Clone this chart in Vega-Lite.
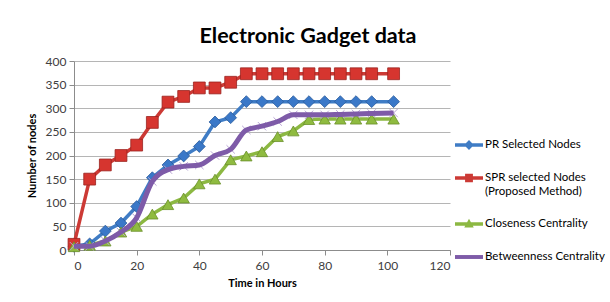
{
  "$schema": "https://vega.github.io/schema/vega-lite/v6.json",
  "width": 376,
  "height": 189,
  "autosize": {"type": "none"},
  "padding": {"left": 74, "top": 61, "right": 160, "bottom": 52},
  "background": "white",
  "config": {
    "font": "Lato",
    "view": {"stroke": null},
    "axis": {"labelFont": "Lato", "titleFont": "Lato"}
  },
  "title": {
    "text": "Electronic Gadget data",
    "fontSize": 21.5,
    "font": "Lato",
    "fontWeight": "bold",
    "color": "#000000",
    "anchor": "middle",
    "dx": 46,
    "dy": 19,
    "baseline": "alphabetic",
    "offset": 10
  },
  "data": {
    "values": [
      {"s": "PR Selected Nodes", "x": 0, "y": 8},
      {"s": "PR Selected Nodes", "x": 5, "y": 13},
      {"s": "PR Selected Nodes", "x": 10, "y": 40},
      {"s": "PR Selected Nodes", "x": 15, "y": 57},
      {"s": "PR Selected Nodes", "x": 20, "y": 92},
      {"s": "PR Selected Nodes", "x": 25, "y": 153},
      {"s": "PR Selected Nodes", "x": 30, "y": 180},
      {"s": "PR Selected Nodes", "x": 35, "y": 199},
      {"s": "PR Selected Nodes", "x": 40, "y": 219},
      {"s": "PR Selected Nodes", "x": 45, "y": 271},
      {"s": "PR Selected Nodes", "x": 50, "y": 280},
      {"s": "PR Selected Nodes", "x": 55, "y": 314},
      {"s": "PR Selected Nodes", "x": 60, "y": 314},
      {"s": "PR Selected Nodes", "x": 65, "y": 314},
      {"s": "PR Selected Nodes", "x": 70, "y": 314},
      {"s": "PR Selected Nodes", "x": 75, "y": 314},
      {"s": "PR Selected Nodes", "x": 80, "y": 314},
      {"s": "PR Selected Nodes", "x": 85, "y": 314},
      {"s": "PR Selected Nodes", "x": 90, "y": 314},
      {"s": "PR Selected Nodes", "x": 95, "y": 314},
      {"s": "PR Selected Nodes", "x": 102, "y": 314},
      {"s": "SPR selected Nodes (Proposed Method)", "x": 0, "y": 12},
      {"s": "SPR selected Nodes (Proposed Method)", "x": 5, "y": 150},
      {"s": "SPR selected Nodes (Proposed Method)", "x": 10, "y": 180},
      {"s": "SPR selected Nodes (Proposed Method)", "x": 15, "y": 200},
      {"s": "SPR selected Nodes (Proposed Method)", "x": 20, "y": 222},
      {"s": "SPR selected Nodes (Proposed Method)", "x": 25, "y": 270},
      {"s": "SPR selected Nodes (Proposed Method)", "x": 30, "y": 313},
      {"s": "SPR selected Nodes (Proposed Method)", "x": 35, "y": 325},
      {"s": "SPR selected Nodes (Proposed Method)", "x": 40, "y": 343},
      {"s": "SPR selected Nodes (Proposed Method)", "x": 45, "y": 343},
      {"s": "SPR selected Nodes (Proposed Method)", "x": 50, "y": 355},
      {"s": "SPR selected Nodes (Proposed Method)", "x": 55, "y": 373},
      {"s": "SPR selected Nodes (Proposed Method)", "x": 60, "y": 373},
      {"s": "SPR selected Nodes (Proposed Method)", "x": 65, "y": 373},
      {"s": "SPR selected Nodes (Proposed Method)", "x": 70, "y": 373},
      {"s": "SPR selected Nodes (Proposed Method)", "x": 75, "y": 373},
      {"s": "SPR selected Nodes (Proposed Method)", "x": 80, "y": 373},
      {"s": "SPR selected Nodes (Proposed Method)", "x": 85, "y": 373},
      {"s": "SPR selected Nodes (Proposed Method)", "x": 90, "y": 373},
      {"s": "SPR selected Nodes (Proposed Method)", "x": 95, "y": 373},
      {"s": "SPR selected Nodes (Proposed Method)", "x": 102, "y": 373},
      {"s": "Closeness Centrality", "x": 0, "y": 7},
      {"s": "Closeness Centrality", "x": 5, "y": 10},
      {"s": "Closeness Centrality", "x": 10, "y": 19},
      {"s": "Closeness Centrality", "x": 15, "y": 38},
      {"s": "Closeness Centrality", "x": 20, "y": 50},
      {"s": "Closeness Centrality", "x": 25, "y": 76},
      {"s": "Closeness Centrality", "x": 30, "y": 96},
      {"s": "Closeness Centrality", "x": 35, "y": 110},
      {"s": "Closeness Centrality", "x": 40, "y": 140},
      {"s": "Closeness Centrality", "x": 45, "y": 150},
      {"s": "Closeness Centrality", "x": 50, "y": 191},
      {"s": "Closeness Centrality", "x": 55, "y": 199},
      {"s": "Closeness Centrality", "x": 60, "y": 208},
      {"s": "Closeness Centrality", "x": 65, "y": 240},
      {"s": "Closeness Centrality", "x": 70, "y": 252},
      {"s": "Closeness Centrality", "x": 75, "y": 276},
      {"s": "Closeness Centrality", "x": 80, "y": 277},
      {"s": "Closeness Centrality", "x": 85, "y": 277},
      {"s": "Closeness Centrality", "x": 90, "y": 277},
      {"s": "Closeness Centrality", "x": 95, "y": 277},
      {"s": "Closeness Centrality", "x": 102, "y": 277},
      {"s": "Betweenness Centrality", "x": 0, "y": 8},
      {"s": "Betweenness Centrality", "x": 5, "y": 8},
      {"s": "Betweenness Centrality", "x": 10, "y": 19},
      {"s": "Betweenness Centrality", "x": 15, "y": 38},
      {"s": "Betweenness Centrality", "x": 20, "y": 68},
      {"s": "Betweenness Centrality", "x": 25, "y": 145},
      {"s": "Betweenness Centrality", "x": 30, "y": 170},
      {"s": "Betweenness Centrality", "x": 35, "y": 177},
      {"s": "Betweenness Centrality", "x": 40, "y": 180},
      {"s": "Betweenness Centrality", "x": 45, "y": 200},
      {"s": "Betweenness Centrality", "x": 50, "y": 213},
      {"s": "Betweenness Centrality", "x": 55, "y": 254},
      {"s": "Betweenness Centrality", "x": 60, "y": 262},
      {"s": "Betweenness Centrality", "x": 65, "y": 272},
      {"s": "Betweenness Centrality", "x": 70, "y": 286},
      {"s": "Betweenness Centrality", "x": 75, "y": 286},
      {"s": "Betweenness Centrality", "x": 80, "y": 286},
      {"s": "Betweenness Centrality", "x": 85, "y": 287},
      {"s": "Betweenness Centrality", "x": 90, "y": 288},
      {"s": "Betweenness Centrality", "x": 95, "y": 289},
      {"s": "Betweenness Centrality", "x": 102, "y": 290}
    ]
  },
  "encoding": {
    "x": {
      "field": "x",
      "type": "quantitative",
      "scale": {"domain": [0, 120], "nice": false},
      "axis": {
        "values": [0, 20, 40, 60, 80, 100, 120],
        "title": "Time in Hours",
        "grid": false,
        "tickSize": 5,
        "domainColor": "#8c8c8c",
        "tickColor": "#8c8c8c",
        "labelColor": "#404040",
        "labelFontSize": 12,
        "labelPadding": 5,
        "titleFontSize": 11,
        "titleFontWeight": "bold",
        "titleColor": "#000000",
        "titlePadding": 6
      }
    },
    "y": {
      "field": "y",
      "type": "quantitative",
      "scale": {"domain": [0, 400], "nice": false},
      "axis": {
        "values": [0, 50, 100, 150, 200, 250, 300, 350, 400],
        "title": "Number of nodes",
        "grid": true,
        "gridColor": "#b5b5b5",
        "gridWidth": 1,
        "tickSize": 5,
        "domainColor": "#8c8c8c",
        "tickColor": "#8c8c8c",
        "labelColor": "#404040",
        "labelFontSize": 12,
        "labelPadding": 3,
        "titleFontSize": 11,
        "titleFontWeight": "bold",
        "titleColor": "#000000",
        "titlePadding": 8
      }
    }
  },
  "layer": [
    {
      "transform": [{"filter": "datum.s == 'PR Selected Nodes'"}],
      "mark": {"type": "line", "strokeWidth": 3.5, "stroke": "#3f7cc5"}
    },
    {
      "transform": [{"filter": "datum.s == 'SPR selected Nodes (Proposed Method)'"}],
      "mark": {"type": "line", "strokeWidth": 3.5, "stroke": "#cc3a35"}
    },
    {
      "transform": [{"filter": "datum.s == 'Closeness Centrality'"}],
      "mark": {"type": "line", "strokeWidth": 3.5, "stroke": "#8cb842"}
    },
    {
      "transform": [{"filter": "datum.s == 'PR Selected Nodes'"}],
      "mark": {"type": "point", "shape": "diamond", "filled": true, "size": 140, "fill": "#3a78c8", "stroke": "#2a5a9a", "strokeWidth": 0.8, "opacity": 1}
    },
    {
      "transform": [{"filter": "datum.s == 'SPR selected Nodes (Proposed Method)'"}],
      "mark": {"type": "point", "shape": "square", "filled": true, "size": 140, "fill": "#d6352f", "stroke": "#992320", "strokeWidth": 0.8, "opacity": 1}
    },
    {
      "transform": [{"filter": "datum.s == 'Closeness Centrality'"}],
      "mark": {"type": "point", "shape": "triangle-up", "filled": true, "size": 130, "fill": "#8fbb40", "stroke": "#6a8f2a", "strokeWidth": 0.8, "opacity": 1}
    },
    {
      "transform": [{"filter": "datum.s == 'Betweenness Centrality'"}],
      "mark": {"type": "point", "shape": "M-1,-1L1,1M1,-1L-1,1", "filled": false, "size": 70, "stroke": "#b7a3d4", "strokeWidth": 1, "opacity": 1}
    },
    {
      "transform": [{"filter": "datum.s == 'Betweenness Centrality'"}],
      "mark": {"type": "line", "strokeWidth": 5, "interpolate": "monotone", "stroke": "#7e5ba8"}
    },
    {
      "transform": [{"filter": "false"}],
      "mark": {"type": "point", "filled": true, "opacity": 1},
      "encoding": {
        "color": {
          "field": "s",
          "type": "nominal",
          "scale": {
            "domain": ["PR Selected Nodes", "SPR selected Nodes (Proposed Method)", "Closeness Centrality", "Betweenness Centrality"],
            "range": ["#3f7cc5", "#cc3a35", "#8cb842", "#7e5ba8"]
          },
          "legend": {
            "orient": "none",
            "legendX": 381,
            "legendY": 70,
            "title": null,
            "padding": 0,
            "labelFont": "Lato",
            "labelFontSize": 11.5,
            "labelColor": "#000000",
            "symbolSize": 784,
            "symbolStrokeWidth": 0,
            "symbolOpacity": 1,
            "rowPadding": 13,
            "labelOffset": 2,
            "labelLimit": 200,
            "labelExpr": "datum.label == 'SPR selected Nodes (Proposed Method)' ? ['SPR selected Nodes', '(Proposed Method)'] : datum.label"
          }
        },
        "shape": {
          "field": "s",
          "type": "nominal",
          "scale": {
            "domain": ["PR Selected Nodes", "SPR selected Nodes (Proposed Method)", "Closeness Centrality", "Betweenness Centrality"],
            "range": [
              "M-1,-0.12H1V0.12H-1Z M0,-0.35L0.35,0L0,0.35L-0.35,0Z",
              "M-1,-0.12H1V0.12H-1Z M-0.28,-0.3H0.28V0.3H-0.28Z",
              "M-1,-0.12H1V0.12H-1Z M0,-0.38L0.34,0.25H-0.34Z",
              "M-1,-0.14H1V0.14H-1Z"
            ]
          },
          "legend": {
            "orient": "none",
            "legendX": 381,
            "legendY": 70,
            "title": null,
            "padding": 0,
            "labelFont": "Lato",
            "labelFontSize": 11.5,
            "labelColor": "#000000",
            "symbolSize": 784,
            "symbolStrokeWidth": 0,
            "symbolOpacity": 1,
            "rowPadding": 13,
            "labelOffset": 2,
            "labelLimit": 200,
            "labelExpr": "datum.label == 'SPR selected Nodes (Proposed Method)' ? ['SPR selected Nodes', '(Proposed Method)'] : datum.label"
          }
        }
      }
    }
  ]
}
